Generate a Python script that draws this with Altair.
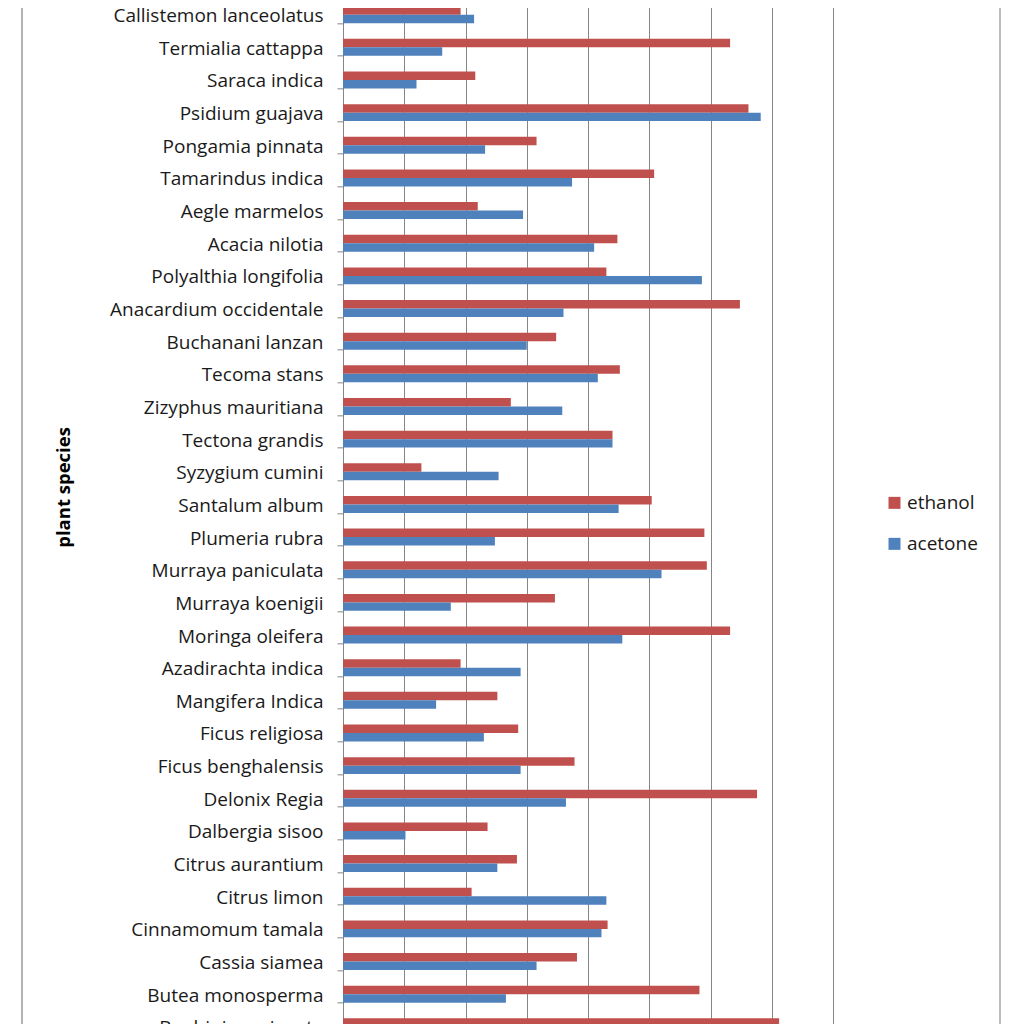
import altair as alt
import pandas as pd

species = [
    "Callistemon lanceolatus", "Termialia cattappa", "Saraca indica", "Psidium guajava",
    "Pongamia pinnata", "Tamarindus indica", "Aegle marmelos", "Acacia nilotia",
    "Polyalthia longifolia", "Anacardium occidentale", "Buchanani lanzan", "Tecoma stans",
    "Zizyphus mauritiana", "Tectona grandis", "Syzygium cumini", "Santalum album",
    "Plumeria rubra", "Murraya paniculata", "Murraya koenigii", "Moringa oleifera",
    "Azadirachta indica", "Mangifera Indica", "Ficus religiosa", "Ficus benghalensis",
    "Delonix Regia", "Dalbergia sisoo", "Citrus aurantium", "Citrus limon",
    "Cinnamomum tamala", "Cassia siamea", "Butea monosperma", "Bauhinia variegata",
]
ethanol = [9.6, 31.6, 10.8, 33.1, 15.8, 25.4, 11.0, 22.4, 21.5, 32.4, 17.4, 22.6,
           13.7, 22.0, 6.4, 25.2, 29.5, 29.7, 17.3, 31.6, 9.6, 12.6, 14.3, 18.9,
           33.8, 11.8, 14.2, 10.5, 21.6, 19.1, 29.1, 35.6]
acetone = [10.7, 8.1, 6.0, 34.1, 11.6, 18.7, 14.7, 20.5, 29.3, 18.0, 15.0, 20.8,
           17.9, 22.0, 12.7, 22.5, 12.4, 26.0, 8.8, 22.8, 14.5, 7.6, 11.5, 14.5,
           18.2, 5.1, 12.6, 21.5, 21.1, 15.8, 13.3, 20.0]
solvents = ["ethanol", "acetone"]
colors = ["#C0504D", "#4F81BD"]
x_ticks = [0, 5, 10, 15, 20, 25, 30, 35, 40]

rows = []
for s, e, a in zip(species, ethanol, acetone):
    rows.append({"species": s, "solvent": "ethanol", "value": e})
    rows.append({"species": s, "solvent": "acetone", "value": a})
df = pd.DataFrame(rows)

STEP = 32.65
W = 490
H = len(species) * STEP
FONT = "Open Sans"
GRID = "#868686"

bars = alt.Chart(df).mark_bar().encode(
    y=alt.Y(
        "species:N", sort=species,
        scale=alt.Scale(paddingInner=0.48, paddingOuter=0.24),
        axis=alt.Axis(
            title="plant species", titleFont=FONT, titleFontWeight="bold", titleFontSize=18.5,
            titleColor="#000000", titleX=-280, titleY=488.6, titleAngle=270,
            titleAlign="center", titleBaseline="middle",
            labelFont=FONT, labelFontSize=19, labelColor="#1a1a1a", labelPadding=14,
            labelOffset=1, labelLimit=400, tickSize=6, tickColor=GRID, domainColor=GRID,
            tickBand="extent", grid=False,
        ),
    ),
    x=alt.X(
        "value:Q", scale=alt.Scale(domain=[0, 40], nice=False),
        axis=alt.Axis(
            title=None, values=x_ticks, grid=True, gridColor=GRID, gridOpacity=1,
            domain=False, ticks=False, labels=False,
        ),
    ),
    yOffset=alt.YOffset("solvent:N", sort=solvents),
    color=alt.Color(
        "solvent:N", sort=solvents,
        scale=alt.Scale(domain=solvents, range=colors),
        legend=alt.Legend(
            title=None, orient="none", legendX=542, legendY=495,
            symbolType="square", symbolSize=144, symbolStrokeWidth=0, symbolOpacity=1,
            labelFont=FONT, labelFontSize=19, labelColor="#1a1a1a",
            rowPadding=21, labelOffset=3,
        ),
    ),
)

frame_data = pd.DataFrame({"k": [0]})
left_edge = alt.Chart(frame_data).mark_rule(color="#999999", strokeWidth=1.5).encode(
    x=alt.value(-321), y=alt.value(-60), y2=alt.value(H + 60)
)
right_edge = alt.Chart(frame_data).mark_rule(color="#a6a6a6", strokeWidth=1.5).encode(
    x=alt.value(657), y=alt.value(-60), y2=alt.value(H + 60)
)

chart = alt.layer(bars, left_edge, right_edge).properties(
    width=W, height=H,
    autosize=alt.AutoSizeParams(type="none"),
    padding={"left": 335, "top": -9.65, "right": 175, "bottom": -19.15},
    background="white",
).configure_view(stroke=None)

chart.save("out.html", embed_options={"renderer": "svg", "actions": False})
